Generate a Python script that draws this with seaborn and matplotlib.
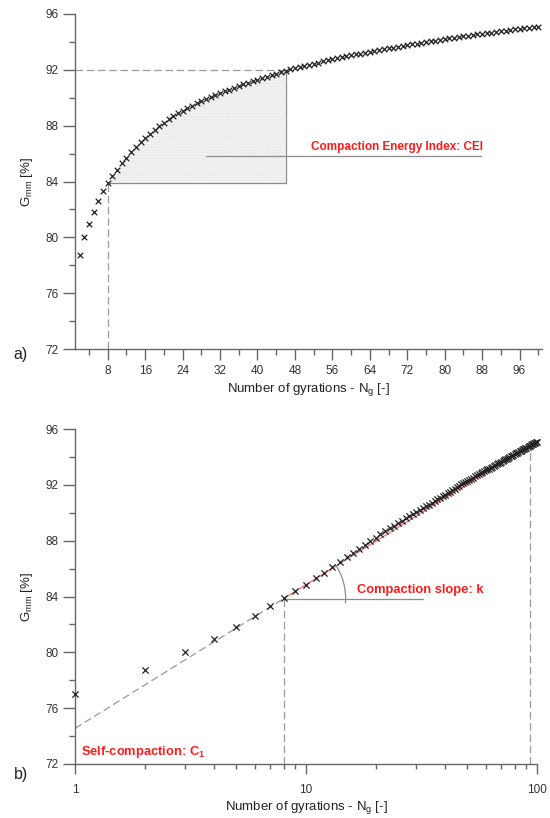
import numpy as np
import pandas as pd
import matplotlib
matplotlib.use("Agg")
import matplotlib.pyplot as plt
import matplotlib.ticker as mticker
import seaborn as sns

# ---------------- data ----------------
n_gyr = list(range(1, 101))
gmm = [77.0, 78.7, 80.0, 80.95, 81.85, 82.6, 83.3, 83.9,
       84.4, 84.85, 85.3, 85.7, 86.1, 86.45, 86.8, 87.1, 87.4, 87.7, 87.95,
       88.2, 88.45, 88.68, 88.9,
       89.08, 89.26, 89.43, 89.6, 89.75, 89.9, 90.05, 90.19, 90.33, 90.46,
       90.59, 90.72, 90.84, 90.96, 91.07, 91.19, 91.3, 91.4, 91.51, 91.61,
       91.71, 91.81, 91.95,
       92.04, 92.12, 92.21, 92.29, 92.37, 92.45, 92.52, 92.6, 92.68, 92.75,
       92.82, 92.89, 92.96, 93.03, 93.1, 93.16, 93.23, 93.29, 93.35, 93.42,
       93.48, 93.54, 93.6, 93.65, 93.71, 93.77, 93.82, 93.88, 93.93, 93.99,
       94.04, 94.09, 94.15, 94.2, 94.25, 94.3, 94.35, 94.39, 94.44, 94.49,
       94.54, 94.58, 94.63, 94.67, 94.72, 94.76, 94.81, 94.85, 94.89, 94.94,
       94.98, 95.02, 95.06, 95.1]

n_start = 8          # start of the CEI region / slope fit
n_92 = 46            # gyrations to reach 92 % Gmm
g_start = 83.9
n_end_fit = 93       # end of the slope fit
c1 = 74.55           # self-compaction (intercept at N=1)
k_slope = 10.3       # compaction slope per log10 decade

top_xticks = [8, 16, 24, 32, 40, 48, 56, 64, 72, 80, 88, 96]
y_ticks = [72, 76, 80, 84, 88, 92, 96]

df = pd.DataFrame({"N": n_gyr, "G": gmm})

# ---------------- style ----------------
sns.set_style("ticks")
plt.rcParams["font.family"] = ["Liberation Sans", "DejaVu Sans"]
plt.rcParams["mathtext.fontset"] = "custom"
plt.rcParams["mathtext.rm"] = "Liberation Sans"
plt.rcParams["mathtext.it"] = "Liberation Sans:italic"
plt.rcParams["mathtext.bf"] = "Liberation Sans:bold"
plt.rcParams["hatch.linewidth"] = 0.3

spine_c = "#666666"
tick_c = "#333333"
mark_c = "#222222"
dash_c = "#9a9a9a"
red = "#ff1a1a"

fig = plt.figure(figsize=(5.5, 8.18), dpi=100)
ax1 = fig.add_axes([75 / 550, 1 - 349 / 818, 467 / 550, 335 / 818])
ax2 = fig.add_axes([75 / 550, 1 - 764 / 818, 462 / 550, 335 / 818])


def style_axis(ax):
    for s in ["top", "right"]:
        ax.spines[s].set_visible(False)
    for s in ["left", "bottom"]:
        ax.spines[s].set_color(spine_c)
        ax.spines[s].set_linewidth(1.0)
    ax.set_ylim(72, 96)
    ax.set_yticks(y_ticks)
    ax.yaxis.set_minor_locator(mticker.MultipleLocator(2))
    ax.tick_params(axis="y", which="major", length=9, width=1.0, color=spine_c,
                   labelsize=8.5, labelcolor=tick_c, pad=3)
    ax.tick_params(axis="y", which="minor", length=4.5, width=1.0, color=spine_c)


# ---------------- panel a ----------------
style_axis(ax1)
ax1.set_xlim(1, 100.8)
ax1.set_xticks(top_xticks)
ax1.xaxis.set_minor_locator(mticker.FixedLocator([4, 12, 20, 28, 36, 44, 52, 60, 68, 76, 84, 92, 100]))
ax1.tick_params(axis="x", which="major", length=8, width=1.0, color=spine_c,
                labelsize=8.5, labelcolor=tick_c, pad=3.5)
ax1.tick_params(axis="x", which="minor", length=4.5, width=1.0, color=spine_c)

reg = df[(df.N >= n_start) & (df.N <= n_92)]
ax1.fill_between(reg.N, g_start, reg.G, facecolor="#f1f1f1", edgecolor="#dedede",
                 hatch="......", linewidth=0, zorder=1)
ax1.plot([n_start, n_92, n_92], [g_start, g_start, 92], color="#8c8c8c", lw=0.9, zorder=2)
ax1.plot([1, n_92], [92, 92], color=dash_c, lw=0.9, dashes=(6, 3), zorder=2)
ax1.plot([n_start, n_start], [72, g_start], color=dash_c, lw=0.9, dashes=(6, 3), zorder=2)
ax1.plot([29, 87.7], [85.86, 85.86], color="#8c8c8c", lw=0.9, zorder=2)
ax1.text(51.5, 86.45, "Compaction Energy Index: CEI", color=red, fontsize=8.45,
         fontweight="bold", ha="left", va="center")

sns.scatterplot(data=df[df.N >= 2], x="N", y="G", marker="x", color=mark_c, s=16,
                linewidth=0.9, ax=ax1, zorder=3, legend=False)
ax1.set_xlabel(r"Number of gyrations - N$_{\mathrm{g}}$ [-]", fontsize=9.5,
               color="#222222", labelpad=3)
ax1.set_ylabel(r"G$_{\mathrm{mm}}$ [%]", fontsize=9.5, color="#222222", labelpad=7)

# ---------------- panel b ----------------
style_axis(ax2)
ax2.set_xscale("log")
ax2.set_xlim(1, 100)
ax2.xaxis.set_major_locator(mticker.FixedLocator([1, 10, 100]))
ax2.xaxis.set_major_formatter(mticker.FuncFormatter(lambda v, p: f"{v:g}"))
ax2.xaxis.set_minor_locator(mticker.LogLocator(base=10, subs=np.arange(2, 10)))
ax2.xaxis.set_minor_formatter(mticker.NullFormatter())
ax2.tick_params(axis="x", which="major", length=7.5, width=1.0, color=spine_c,
                labelsize=8.5, labelcolor=tick_c, pad=7)
ax2.tick_params(axis="x", which="minor", length=3.8, width=1.0, color=spine_c)

g_fit_start = c1 + k_slope * np.log10(n_start)
g_fit_end = c1 + k_slope * np.log10(n_end_fit)
ax2.plot([1, n_start], [c1, g_fit_start], color=dash_c, lw=0.9, dashes=(6, 3), zorder=2)
ax2.plot([n_start, n_end_fit], [g_fit_start, g_fit_end], color="#ff6a6a", lw=0.9, zorder=2)
ax2.plot([n_start, n_start], [72, g_fit_start], color=dash_c, lw=0.9, dashes=(6, 3), zorder=2)
ax2.plot([n_end_fit, n_end_fit], [72, 95.2], color=dash_c, lw=0.9, dashes=(6, 3), zorder=2)
ax2.plot([n_start, 32], [g_fit_start, g_fit_start], color="#8c8c8c", lw=0.9, zorder=2)

# arc marking the slope angle (built in display space, drawn in data space)
fig.canvas.draw()
cx, cy = ax2.transData.transform((n_start, g_fit_start))
p_end = ax2.transData.transform((100, c1 + k_slope * 2))
ang = np.degrees(np.arctan2(p_end[1] - cy, p_end[0] - cx))
t = np.radians(np.linspace(-4, ang + 1, 60))
r = 62
pts = np.column_stack([cx + r * np.cos(t), cy + r * np.sin(t)])
dpts = ax2.transData.inverted().transform(pts)
ax2.plot(dpts[:, 0], dpts[:, 1], color="#8c8c8c", lw=0.9, zorder=2)

ax2.text(16.6, 84.5, "Compaction slope: k", color=red, fontsize=9.3,
         fontweight="bold", ha="left", va="center")
ax2.text(1.06, 72.85, r"Self-compaction: C$_{\mathbf{1}}$", color=red, fontsize=9.3,
         fontweight="bold", ha="left", va="center")

sns.scatterplot(data=df, x="N", y="G", marker="x", color=mark_c, s=20,
                linewidth=0.9, ax=ax2, zorder=3, legend=False, clip_on=False)
ax2.set_xlabel(r"Number of gyrations - N$_{\mathrm{g}}$ [-]", fontsize=9.5,
               color="#222222", labelpad=2)
ax2.set_ylabel(r"G$_{\mathrm{mm}}$ [%]", fontsize=9.5, color="#222222", labelpad=7)

fig.text(21 / 550, 1 - 355 / 818, "a)", fontsize=11.5, color="#222222", ha="center", va="center")
fig.text(21 / 550, 1 - 774 / 818, "b)", fontsize=11.5, color="#222222", ha="center", va="center")

fig.savefig("out.png", dpi=100)
